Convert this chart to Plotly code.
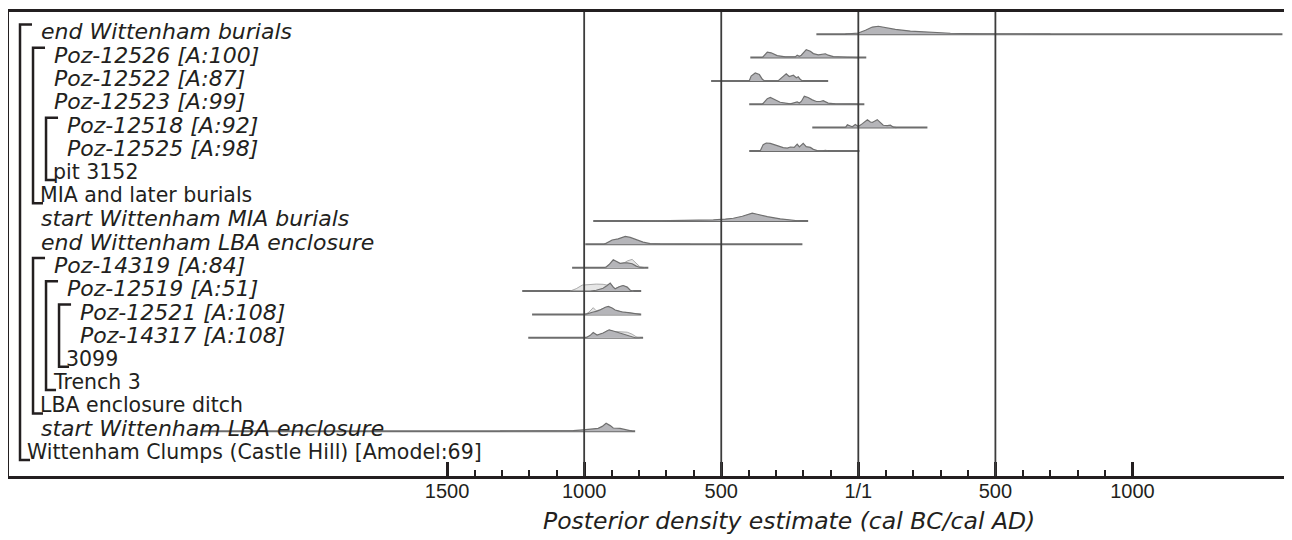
import plotly.graph_objects as go

# ---- rows (top to bottom) ----
labels = [
    "end Wittenham burials", "Poz-12526 [A:100]", "Poz-12522 [A:87]", "Poz-12523 [A:99]",
    "Poz-12518 [A:92]", "Poz-12525 [A:98]", "pit 3152", "MIA and later burials",
    "start Wittenham MIA burials", "end Wittenham LBA enclosure", "Poz-14319 [A:84]",
    "Poz-12519 [A:51]", "Poz-12521 [A:108]", "Poz-14317 [A:108]", "3099", "Trench 3",
    "LBA enclosure ditch", "start Wittenham LBA enclosure",
    "Wittenham Clumps (Castle Hill) [Amodel:69]",
]
depth = [1, 2, 2, 2, 3, 3, 3, 2, 1, 1, 2, 3, 4, 4, 4, 3, 2, 1, 1]
# group rows (bracket label row -> first child row)
group_first = {6: 4, 7: 1, 14: 12, 15: 11, 16: 10, 18: 0}

# ---- x axis ----
tick_vals = [-1500, -1000, -500, 0, 500, 1000]
tick_text = ["1500", "1000", "500", "1/1", "500", "1000"]
grid_vals = [-1000, -500, 0, 500]

# ---- distributions: years, posterior density, likelihood density, plotted range ----
end_bur_yr = [-47, -29, 0, 26, 51, 73, 99, 135, 190, 263, 336, 445, 555, 701]
end_bur_p = [0, 0.08, 0.15, 0.5, 0.9, 1.0, 0.85, 0.6, 0.4, 0.22, 0.12, 0.05, 0.01, 0]
end_bur_rng = [-153, 1547]

p12526_yr = [-350, -339, -332, -318, -296, -266, -230, -223, -215, -208, -190, -175, -164, -146, -131, -120, -110, -91, -40, 0]
p12526_p = [0, 0.5, 0.68, 0.6, 0.25, 0.08, 0.08, 0.3, 0.15, 0.3, 1.0, 0.8, 0.5, 0.35, 0.4, 0.48, 0.3, 0.12, 0.04, 0]
p12526_rng = [-394, 29]

p12522_yr = [-398, -391, -376, -361, -350, -343, -292, -277, -263, -252, -237, -226, -219, -212, -204]
p12522_p = [0, 0.6, 1.0, 0.8, 0.2, 0.02, 0.02, 0.45, 0.9, 0.55, 0.72, 0.4, 0.52, 0.2, 0]
p12522_rng = [-537, -110]

p12523_yr = [-350, -332, -321, -303, -285, -248, -223, -215, -208, -197, -183, -168, -153, -139, -128, -110, -84, -29, 0]
p12523_p = [0, 0.7, 0.85, 0.55, 0.25, 0.05, 0.3, 0.15, 0.35, 1.0, 0.85, 0.55, 0.35, 0.35, 0.45, 0.15, 0.06, 0.02, 0]
p12523_rng = [-398, 22]

p12518_yr = [-47, -40, -29, -22, -11, 0, 15, 26, 33, 44, 51, 69, 80, 91, 106, 117, 128, 139]
p12518_p = [0, 0.35, 0.2, 0.1, 0.38, 0.15, 0.5, 0.85, 1.0, 0.7, 0.65, 1.0, 0.7, 0.3, 0.25, 0.3, 0.05, 0]
p12518_rng = [-168, 252]

p12525_yr = [-358, -347, -336, -321, -307, -288, -274, -259, -248, -234, -223, -215, -201, -190, -175, -164, -150, -131, -120, -110]
p12525_p = [0, 0.8, 1.0, 0.95, 0.8, 0.55, 0.42, 0.35, 0.5, 0.45, 0.85, 0.5, 0.95, 0.55, 0.45, 0.2, 0.04, 0.02, 0.07, 0]
p12525_rng = [-398, 4]

start_mia_yr = [-796, -723, -650, -577, -529, -485, -456, -423, -401, -387, -369, -332, -285, -237, -212]
start_mia_p = [0, 0.02, 0.05, 0.1, 0.14, 0.25, 0.35, 0.6, 0.85, 1.0, 0.85, 0.55, 0.27, 0.07, 0]
start_mia_rng = [-967, -183]

end_lba_yr = [-927, -913, -898, -876, -850, -832, -810, -785, -759, -723, -613]
end_lba_p = [0, 0.3, 0.55, 0.7, 1.0, 0.88, 0.6, 0.28, 0.1, 0.03, 0]
end_lba_rng = [-996, -204]

p14319_yr = [-923, -909, -894, -880, -869, -854, -843, -825, -810, -796, -781]
p14319_p = [0, 0.4, 1.0, 0.75, 0.55, 0.6, 0.6, 0.5, 0.2, 0.03, 0]
p14319_l = [0, 0.3, 0.85, 0.65, 0.5, 0.6, 0.85, 1.05, 0.6, 0.1, 0]
p14319_rng = [-1044, -766]

p12519_yr = [-1051, -1029, -1007, -978, -956, -931, -916, -905, -894, -887, -872, -858, -843, -832, -821]
p12519_p = [0, 0, 0, 0, 0.1, 0.35, 0.7, 1.0, 0.5, 0.28, 0.55, 0.7, 0.5, 0.1, 0]
p12519_l = [0, 0.3, 0.75, 0.85, 0.88, 0.85, 0.75, 0.9, 0.5, 0.3, 0.55, 0.7, 0.45, 0.1, 0]
p12519_rng = [-1226, -792]

p12521_yr = [-996, -982, -967, -956, -942, -923, -912, -898, -887, -876, -861, -839, -821, -807, -796]
p12521_p = [0, 0.18, 0.3, 0.38, 0.55, 0.9, 1.0, 0.8, 0.55, 0.45, 0.3, 0.22, 0.1, 0.05, 0]
p12521_l = [0, 0.3, 0.85, 0.45, 0.6, 0.85, 0.95, 0.75, 0.5, 0.4, 0.3, 0.25, 0.12, 0.05, 0]
p12521_rng = [-1190, -792]

p14317_yr = [-993, -978, -967, -953, -931, -920, -909, -894, -880, -861, -843, -825, -814, -807, -796]
p14317_p = [0, 0.3, 0.65, 0.35, 0.6, 0.85, 1.0, 0.85, 0.7, 0.55, 0.35, 0.07, 0, 0, 0]
p14317_l = [0, 0.2, 0.4, 0.3, 0.55, 0.8, 0.95, 0.8, 0.75, 0.7, 0.7, 0.45, 0.2, 0.05, 0]
p14317_rng = [-1204, -785]

start_lba_yr = [-1307, -1161, -1088, -1040, -1004, -967, -949, -934, -920, -905, -894, -869, -843, -825]
start_lba_p = [0, 0.02, 0.04, 0.06, 0.17, 0.3, 0.35, 0.6, 1.0, 0.7, 0.4, 0.35, 0.17, 0]
start_lba_rng = [-2400, -814]

dists = [
    (0, end_bur_yr, end_bur_p, None, end_bur_rng),
    (1, p12526_yr, p12526_p, None, p12526_rng),
    (2, p12522_yr, p12522_p, None, p12522_rng),
    (3, p12523_yr, p12523_p, None, p12523_rng),
    (4, p12518_yr, p12518_p, None, p12518_rng),
    (5, p12525_yr, p12525_p, None, p12525_rng),
    (8, start_mia_yr, start_mia_p, None, start_mia_rng),
    (9, end_lba_yr, end_lba_p, None, end_lba_rng),
    (10, p14319_yr, p14319_p, p14319_l, p14319_rng),
    (11, p12519_yr, p12519_p, p12519_l, p12519_rng),
    (12, p12521_yr, p12521_p, p12521_l, p12521_rng),
    (13, p14317_yr, p14317_p, p14317_l, p14317_rng),
    (17, start_lba_yr, start_lba_p, None, start_lba_rng),
]

INK = "#231f20"
H = 0.34  # peak height in row units

fig = go.Figure()

for row, yr, post, like, rng in dists:
    fig.add_trace(go.Scatter(x=rng, y=[row, row], mode="lines",
                             line=dict(color="#6d6d6d", width=2), hoverinfo="skip"))
    if like is not None:
        fig.add_trace(go.Scatter(x=yr, y=[row - d * H for d in like], mode="lines",
                                 fill="toself", fillcolor="#e6e6e6",
                                 line=dict(color="#aaaaaa", width=1), hoverinfo="skip"))
    fig.add_trace(go.Scatter(x=yr, y=[row - d * H for d in post], mode="lines",
                             fill="toself", fillcolor="#b5b5b9",
                             line=dict(color="#707070", width=1.2),
                             name=labels[row]))

# brackets (drawn on a pixel-like helper axis)
for g, f in group_first.items():
    bx = 20 + 13 * (depth[g] - 1)
    fig.add_trace(go.Scatter(x=[bx + 12, bx, bx, bx + 10],
                             y=[f - 0.42, f - 0.42, g + 0.24, g + 0.24],
                             xaxis="x2", mode="lines",
                             line=dict(color=INK, width=2.5), hoverinfo="skip"))

for i, lab in enumerate(labels):
    if i in group_first:
        tx = 20 + 13 * (depth[i] - 1) + 5
        txt = lab
        fsize = 20.5
    else:
        tx = 39 + 13 * (depth[i] - 1)
        txt = f"<i>{lab}</i>"
        fsize = 22
    fig.add_annotation(x=tx, y=i - 0.1, xref="x2", yref="y", text=txt,
                       showarrow=False, xanchor="left", yanchor="middle",
                       font=dict(family="DejaVu Sans", size=fsize, color=INK))

for gv in grid_vals:
    fig.add_shape(type="line", x0=gv, x1=gv, y0=0, y1=1, xref="x", yref="paper",
                  line=dict(color="#3c3c3c", width=1.8))

fig.add_annotation(x=0.611, y=-0.097, xref="paper", yref="paper",
                   text="<i>Posterior density estimate (cal BC/cal AD)</i>",
                   showarrow=False, xanchor="center", yanchor="middle",
                   font=dict(family="DejaVu Sans", size=23.5, color=INK))

# page has an 8px body margin; plot area spans page x 9..1285.5, y 10..476
fig.update_layout(
    width=1284, height=532,
    margin=dict(l=1, r=6, t=2, b=64),
    paper_bgcolor="white", plot_bgcolor="white",
    showlegend=False,
    xaxis=dict(
        range=[-3098, 1560],
        tickmode="array", tickvals=tick_vals, ticktext=tick_text,
        ticks="inside", ticklen=14, tickwidth=2.5, tickcolor=INK,
        minor=dict(tickmode="array", tickvals=list(range(-1500, 1001, 100)),
                   ticks="inside", ticklen=6, tickwidth=1.5, tickcolor=INK,
                   showgrid=False),
        showline=True, linewidth=3, linecolor=INK, mirror=True,
        showgrid=False, zeroline=False,
        ticklabelstandoff=-5,
        tickfont=dict(family="Liberation Sans", size=20, color=INK),
    ),
    xaxis2=dict(range=[9, 1285], overlaying="x", visible=False),
    yaxis=dict(
        range=[18.92, -0.951],
        showline=True, linewidth=3, linecolor=INK, mirror=True,
        showticklabels=False, ticks="", showgrid=False, zeroline=False,
    ),
)

fig.write_html("out.html")
